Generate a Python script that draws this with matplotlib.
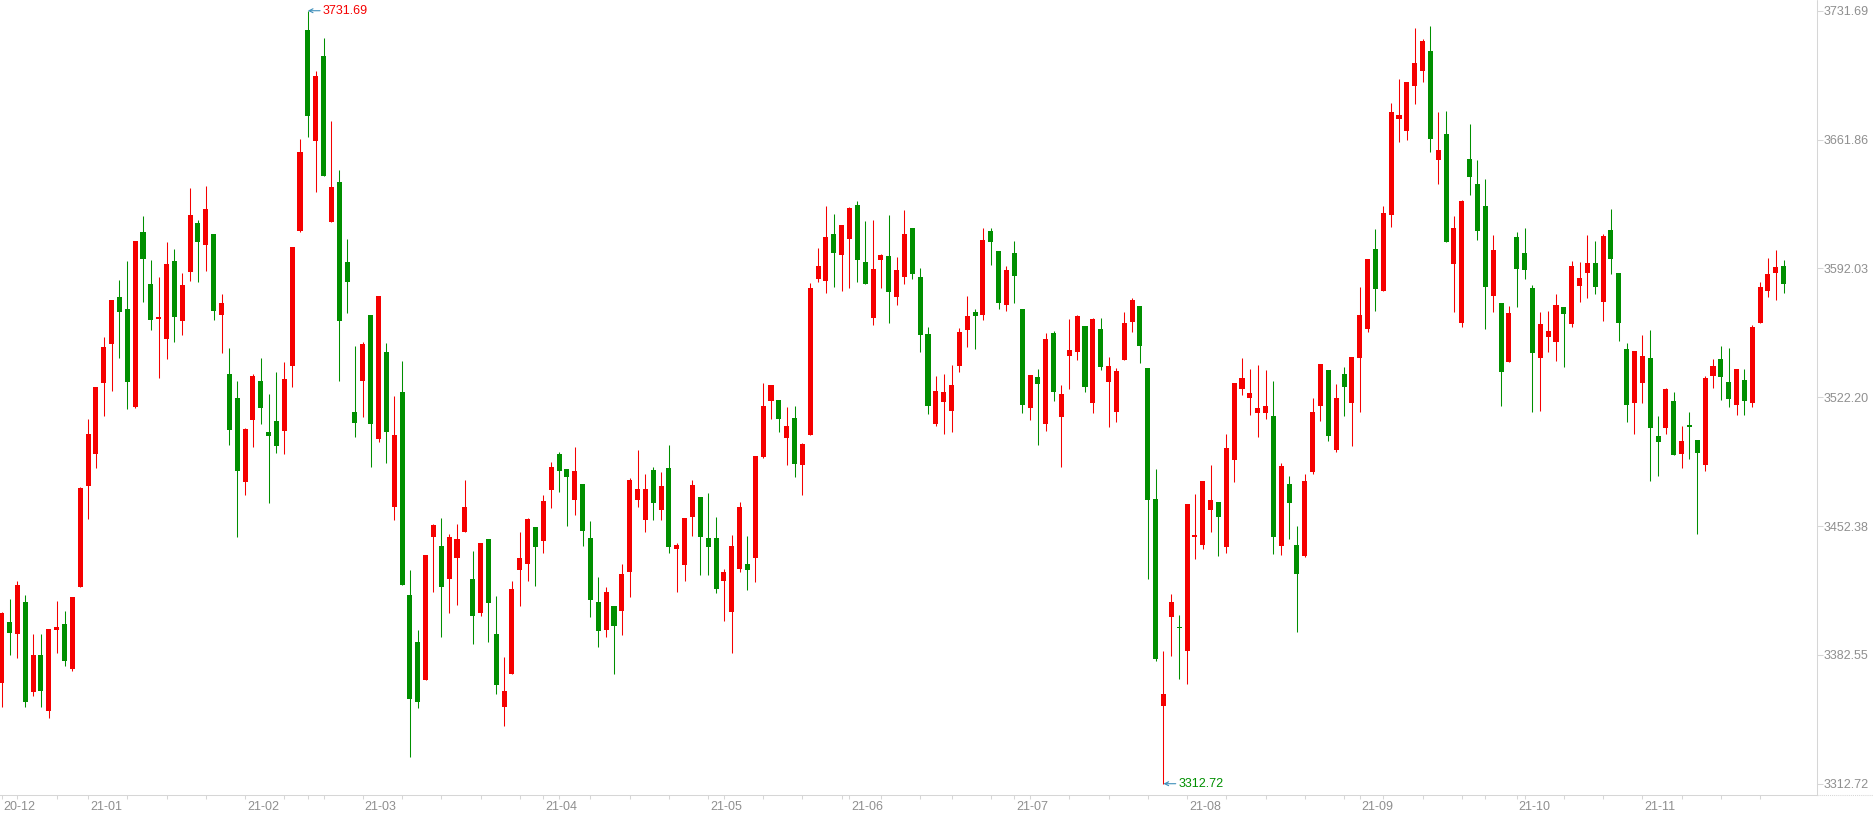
import numpy as np
import pandas as pd
import matplotlib
matplotlib.use("Agg")
import matplotlib.pyplot as plt
from matplotlib.lines import Line2D

plt.rcParams['font.family'] = ['Liberation Sans', 'DejaVu Sans']

# trading days, Dec 17 2020 .. Nov 25 2021 (weekday holidays removed)
start_day = '2020-12-17'
end_day = '2021-11-25'
holidays = ['2021-01-01', '2021-02-11', '2021-02-12', '2021-02-15', '2021-02-16',
            '2021-02-17', '2021-04-05', '2021-05-03', '2021-05-04', '2021-05-05',
            '2021-06-14', '2021-09-20', '2021-09-21', '2021-10-01', '2021-10-04',
            '2021-10-05', '2021-10-06', '2021-10-07']

opens = [3367.1, 3400.6, 3393.9, 3411.0, 3362.3, 3382.4, 3352.3, 3396.0, 3399.1, 3375.1,
         3419.2, 3473.9, 3491.2, 3529.8, 3551.3, 3576.4, 3569.9, 3516.9, 3611.9, 3583.3,
         3564.7, 3553.6, 3596.0, 3563.7, 3590.2, 3616.7, 3604.9, 3610.7, 3567.0, 3534.8,
         3521.9, 3476.4, 3510.0, 3531.0, 3503.3, 3509.3, 3504.0, 3539.3, 3612.4, 3721.2,
         3661.2, 3707.1, 3617.3, 3638.8, 3595.4, 3514.1, 3531.1, 3566.8, 3499.8, 3546.6,
         3462.8, 3524.9, 3415.0, 3389.4, 3369.1, 3446.5, 3441.5, 3423.9, 3435.3, 3448.9,
         3423.7, 3405.5, 3445.4, 3393.9, 3354.4, 3372.2, 3428.7, 3431.8, 3451.8, 3444.2,
         3472.1, 3491.5, 3483.3, 3466.7, 3475.2, 3445.9, 3411.1, 3396.2, 3409.0, 3406.5,
         3427.2, 3466.7, 3455.8, 3482.8, 3461.3, 3483.9, 3439.8, 3431.5, 3457.4, 3468.0,
         3446.0, 3446.0, 3422.7, 3405.9, 3429.3, 3431.8, 3435.3, 3489.7, 3520.1, 3520.7,
         3500.2, 3511.0, 3485.5, 3501.7, 3586.5, 3585.2, 3610.5, 3599.5, 3608.2, 3626.4,
         3595.4, 3565.0, 3596.8, 3598.7, 3576.3, 3587.1, 3614.0, 3587.3, 3556.3, 3507.9,
         3519.7, 3514.9, 3539.3, 3558.8, 3568.3, 3567.0, 3612.3, 3601.4, 3572.4, 3600.4,
         3570.1, 3516.6, 3533.1, 3507.9, 3557.1, 3511.6, 3544.5, 3546.8, 3560.8, 3518.8,
         3559.2, 3530.2, 3514.3, 3542.6, 3563.1, 3571.6, 3538.1, 3467.1, 3355.0, 3403.2,
         3397.8, 3384.8, 3446.2, 3442.3, 3461.3, 3465.3, 3441.1, 3488.4, 3526.9, 3522.0,
         3513.9, 3513.9, 3512.0, 3441.7, 3475.2, 3442.1, 3436.3, 3481.8, 3517.6, 3536.9,
         3493.8, 3534.8, 3518.8, 3543.7, 3559.4, 3602.6, 3579.9, 3621.2, 3673.2, 3666.6,
         3691.0, 3699.2, 3709.8, 3651.0, 3664.9, 3594.6, 3562.7, 3651.4, 3637.8, 3625.8,
         3577.2, 3573.3, 3541.4, 3609.0, 3600.4, 3581.5, 3543.2, 3554.6, 3551.9, 3571.0,
         3562.1, 3582.6, 3589.8, 3595.0, 3573.9, 3612.9, 3589.6, 3548.4, 3518.8, 3530.0,
         3543.5, 3501.2, 3505.3, 3520.2, 3491.6, 3507.1, 3499.1, 3485.6, 3533.9, 3542.9,
         3530.4, 3518.2, 3531.5, 3518.8, 3562.2, 3580.0, 3589.8, 3593.3]
highs = [3405.6, 3413.1, 3422.7, 3415.2, 3393.7, 3393.7, 3396.4, 3412.0, 3406.6, 3414.1,
         3473.7, 3510.4, 3527.5, 3554.9, 3574.9, 3586.0, 3595.8, 3607.1, 3620.5, 3596.7,
         3587.2, 3606.5, 3602.6, 3589.6, 3635.7, 3618.0, 3636.6, 3610.7, 3578.2, 3548.9,
         3531.0, 3505.6, 3534.8, 3543.5, 3524.0, 3535.8, 3541.2, 3603.5, 3662.2, 3731.69,
         3699.0, 3717.0, 3671.7, 3645.2, 3608.0, 3549.9, 3552.0, 3566.8, 3577.0, 3551.5,
         3522.8, 3541.8, 3428.5, 3396.0, 3436.7, 3453.5, 3456.8, 3448.1, 3453.5, 3477.3,
         3438.8, 3443.3, 3445.4, 3414.4, 3381.3, 3422.5, 3449.1, 3456.8, 3451.8, 3469.2,
         3487.0, 3492.4, 3483.3, 3495.1, 3475.2, 3455.1, 3424.7, 3419.3, 3409.0, 3431.8,
         3478.5, 3493.6, 3480.6, 3484.3, 3481.6, 3496.3, 3443.3, 3456.8, 3477.3, 3468.0,
         3470.4, 3457.2, 3429.1, 3447.5, 3465.3, 3446.9, 3490.3, 3530.0, 3528.8, 3520.7,
         3516.8, 3517.4, 3497.5, 3584.2, 3603.2, 3625.8, 3621.6, 3615.5, 3625.2, 3628.5,
         3617.7, 3618.3, 3599.9, 3621.0, 3598.1, 3623.7, 3614.0, 3592.3, 3560.2, 3533.7,
         3534.8, 3539.7, 3559.8, 3577.0, 3570.1, 3614.0, 3614.0, 3601.4, 3593.3, 3606.8,
         3570.1, 3534.2, 3537.5, 3557.1, 3558.1, 3528.8, 3564.6, 3566.8, 3560.8, 3565.2,
         3565.2, 3543.9, 3538.1, 3568.3, 3576.0, 3571.6, 3538.1, 3483.3, 3384.4, 3415.6,
         3403.9, 3464.4, 3469.8, 3476.7, 3485.5, 3465.3, 3502.3, 3530.0, 3543.5, 3537.5,
         3539.7, 3537.0, 3531.0, 3486.6, 3479.5, 3452.4, 3480.6, 3521.9, 3540.2, 3536.9,
         3529.4, 3538.5, 3543.9, 3581.9, 3597.2, 3613.4, 3625.8, 3681.5, 3694.7, 3692.9,
         3722.4, 3716.4, 3723.4, 3676.7, 3677.3, 3620.4, 3629.1, 3670.3, 3650.8, 3640.5,
         3610.1, 3573.3, 3571.8, 3611.7, 3614.0, 3583.0, 3568.3, 3568.9, 3578.2, 3571.0,
         3596.0, 3595.4, 3610.1, 3606.8, 3610.7, 3624.1, 3589.6, 3551.5, 3547.2, 3556.0,
         3558.7, 3512.0, 3527.2, 3525.1, 3506.7, 3514.3, 3499.1, 3533.7, 3542.9, 3549.9,
         3548.9, 3537.6, 3537.6, 3561.3, 3584.7, 3597.8, 3602.0, 3596.5]
lows = [3354.2, 3382.4, 3381.0, 3354.2, 3360.1, 3354.2, 3348.4, 3383.6, 3376.3, 3374.0,
        3419.2, 3456.3, 3483.7, 3512.1, 3525.6, 3543.2, 3516.0, 3516.1, 3573.9, 3558.4,
        3532.5, 3542.8, 3552.3, 3556.1, 3585.3, 3584.8, 3590.8, 3564.2, 3545.9, 3496.5,
        3446.2, 3469.4, 3495.0, 3507.9, 3465.1, 3492.2, 3491.6, 3527.9, 3611.7, 3663.3,
        3633.5, 3642.3, 3617.3, 3531.1, 3568.1, 3500.4, 3511.6, 3484.5, 3498.0, 3486.8,
        3455.8, 3420.6, 3327.3, 3354.0, 3369.1, 3416.7, 3392.0, 3405.5, 3409.8, 3448.9,
        3388.7, 3403.8, 3389.3, 3361.6, 3344.2, 3372.2, 3409.2, 3422.5, 3420.0, 3437.9,
        3462.4, 3470.9, 3452.6, 3458.6, 3441.7, 3403.2, 3386.9, 3392.4, 3372.4, 3393.5,
        3413.8, 3462.8, 3449.3, 3455.8, 3455.8, 3438.0, 3416.8, 3422.7, 3447.1, 3426.0,
        3426.0, 3416.2, 3401.1, 3383.8, 3427.6, 3417.9, 3421.8, 3489.3, 3510.4, 3503.5,
        3485.5, 3478.9, 3469.4, 3501.7, 3584.6, 3578.9, 3582.0, 3579.9, 3581.5, 3584.4,
        3583.8, 3561.5, 3581.5, 3562.7, 3572.4, 3583.8, 3586.5, 3546.8, 3513.3, 3506.8,
        3502.5, 3503.5, 3536.0, 3549.5, 3548.6, 3564.3, 3594.1, 3570.1, 3569.1, 3573.5,
        3513.9, 3510.0, 3496.5, 3504.0, 3520.3, 3484.5, 3526.9, 3542.6, 3525.1, 3513.9,
        3537.1, 3505.8, 3508.5, 3542.6, 3557.7, 3541.0, 3423.9, 3379.4, 3312.72, 3382.1,
        3369.7, 3367.0, 3434.7, 3440.2, 3448.9, 3436.3, 3438.0, 3476.4, 3523.6, 3512.8,
        3500.4, 3510.6, 3437.3, 3436.9, 3445.6, 3395.0, 3435.7, 3480.8, 3509.5, 3498.6,
        3492.6, 3512.2, 3495.9, 3514.3, 3557.3, 3569.1, 3579.9, 3614.6, 3660.4, 3661.8,
        3681.2, 3692.8, 3655.0, 3638.0, 3606.4, 3568.5, 3560.0, 3632.0, 3607.6, 3559.4,
        3568.5, 3517.6, 3541.4, 3571.2, 3586.5, 3514.3, 3514.9, 3546.8, 3542.0, 3538.7,
        3560.0, 3573.9, 3576.1, 3578.2, 3563.5, 3589.2, 3552.7, 3509.0, 3502.4, 3518.8,
        3477.0, 3479.7, 3502.4, 3491.1, 3483.6, 3488.7, 3447.8, 3482.4, 3527.0, 3520.8,
        3517.1, 3512.6, 3512.6, 3517.1, 3562.2, 3576.5, 3575.0, 3578.9]
closes = [3405.0, 3394.5, 3420.6, 3356.9, 3382.4, 3363.2, 3396.4, 3397.6, 3379.1, 3414.1,
          3472.8, 3502.3, 3527.5, 3549.5, 3574.9, 3568.5, 3530.4, 3607.1, 3596.9, 3564.3,
          3565.5, 3594.6, 3565.8, 3583.0, 3621.0, 3606.4, 3624.3, 3569.1, 3573.3, 3504.6,
          3482.4, 3505.0, 3533.7, 3516.6, 3501.3, 3495.9, 3532.1, 3603.5, 3655.0, 3674.8,
          3696.3, 3642.3, 3636.1, 3563.7, 3584.8, 3508.3, 3551.1, 3507.9, 3577.0, 3503.1,
          3501.7, 3420.6, 3358.9, 3357.1, 3436.7, 3452.9, 3419.4, 3446.4, 3445.4, 3462.6,
          3403.8, 3443.3, 3410.9, 3366.4, 3362.9, 3418.3, 3435.1, 3456.2, 3441.1, 3465.9,
          3484.3, 3482.4, 3479.1, 3482.2, 3449.8, 3412.5, 3395.6, 3416.5, 3398.4, 3426.4,
          3477.3, 3472.5, 3472.5, 3464.6, 3474.0, 3440.9, 3442.1, 3456.8, 3474.6, 3446.2,
          3440.9, 3418.5, 3427.4, 3441.5, 3462.6, 3428.8, 3490.3, 3517.4, 3528.8, 3510.4,
          3506.6, 3486.0, 3496.9, 3581.5, 3593.3, 3608.9, 3600.4, 3615.5, 3624.8, 3596.8,
          3583.8, 3591.7, 3599.3, 3579.3, 3591.2, 3610.7, 3589.2, 3556.1, 3517.6, 3525.5,
          3524.9, 3528.8, 3557.5, 3566.2, 3566.4, 3607.4, 3606.1, 3573.0, 3591.2, 3588.1,
          3518.2, 3534.2, 3529.4, 3553.8, 3525.2, 3524.0, 3547.8, 3566.2, 3527.8, 3564.6,
          3538.7, 3539.1, 3536.4, 3562.5, 3574.9, 3550.1, 3466.7, 3380.5, 3361.4, 3411.1,
          3397.0, 3464.4, 3447.5, 3476.7, 3466.5, 3457.4, 3494.8, 3530.0, 3532.7, 3524.6,
          3516.4, 3517.4, 3446.6, 3484.9, 3465.1, 3426.6, 3476.7, 3514.1, 3540.2, 3501.3,
          3521.9, 3527.5, 3543.9, 3566.8, 3597.2, 3581.1, 3622.1, 3676.7, 3675.2, 3692.9,
          3703.4, 3715.2, 3662.4, 3656.2, 3606.4, 3614.0, 3628.5, 3641.6, 3612.4, 3582.0,
          3602.0, 3536.0, 3567.9, 3591.9, 3591.3, 3546.4, 3561.9, 3558.0, 3572.2, 3567.5,
          3593.3, 3586.9, 3595.0, 3582.0, 3609.5, 3597.1, 3562.2, 3518.2, 3547.2, 3544.6,
          3505.3, 3498.1, 3526.8, 3491.1, 3498.3, 3506.3, 3492.2, 3532.7, 3539.2, 3532.9,
          3521.4, 3537.6, 3520.4, 3560.3, 3582.0, 3589.0, 3592.8, 3583.8]

axis_levels = [3312.72, 3382.55, 3452.38, 3522.20, 3592.03, 3661.86, 3731.69]

UP = '#f50000'
DOWN = '#008f00'
GRID = '#d6d6d6'
LABEL = '#8f8f8f'

days = pd.bdate_range(start_day, end_day)
days = days[~days.isin(pd.to_datetime(holidays))]

o = np.array(opens)
h = np.array(highs)
l = np.array(lows)
c = np.array(closes)
x = np.arange(len(o))
up = c >= o
colors = np.where(up, UP, DOWN)

W, H = 1874, 816
fig = plt.figure(figsize=(W / 100, H / 100), dpi=100)
fig.patch.set_facecolor('white')
ax = fig.add_axes([0, 21 / H, 1817 / W, 795 / H])

ax.vlines(x, l, h, colors=colors, linewidth=0.75, zorder=2)
body_low = np.minimum(o, c)
body_h = np.maximum(np.abs(c - o), 0.6)
ax.bar(x, body_h, bottom=body_low, width=0.64, color=colors, linewidth=0, zorder=3)

ax.set_xlim(-0.217, 231.25)
ax.set_ylim(3306.6, 3737.5)

for s in ['left', 'top']:
    ax.spines[s].set_visible(False)
for s in ['right', 'bottom']:
    ax.spines[s].set_color(GRID)
    ax.spines[s].set_linestyle((0, (1, 1)))
    ax.spines[s].set_linewidth(0.75)
fig.add_artist(Line2D([1817 / W, 1], [21 / H, 21 / H], transform=fig.transFigure,
                      color=GRID, linestyle=(0, (1, 1)), linewidth=0.75))

# right price axis
ax.yaxis.tick_right()
ax.set_yticks(axis_levels)
ax.set_yticklabels([f'{v:.2f}' for v in axis_levels])
ax.tick_params(axis='y', length=4, width=0.75, color=GRID, labelcolor=LABEL,
               labelsize=9, pad=1)

# weekly / monthly ticks on the time axis
ser = pd.Series(days)
week_start = ser.dt.isocalendar().week.diff().fillna(1) != 0
month_start = ser.dt.month.diff().fillna(1) != 0
ticks = np.where(week_start.values | month_start.values)[0]
ax.set_xticks(ticks)
ax.tick_params(axis='x', length=3, width=0.75, color=GRID, labelbottom=False)

for i in np.where(month_start.values)[0]:
    ax.annotate(days[i].strftime('%y-%m'), xy=(i, 0), xycoords=('data', 'axes fraction'),
                xytext=(2, -12), textcoords='offset pixels', ha='left', va='center',
                fontsize=9, color=LABEL, annotation_clip=False)

# max / min markers
i_max = int(np.argmax(h))
i_min = int(np.argmin(l))
for i, v, col in [(i_max, h[i_max], UP), (i_min, l[i_min], DOWN)]:
    ax.annotate(f'{v:.2f}', xy=(i, v), xytext=(15, 0), textcoords='offset pixels',
                ha='left', va='center', fontsize=9, color=col, annotation_clip=False,
                arrowprops=dict(arrowstyle='->', color='#3f8fba', lw=0.8,
                                shrinkA=0, shrinkB=0, mutation_scale=7))

fig.savefig('out.png', dpi=100, facecolor='white')
